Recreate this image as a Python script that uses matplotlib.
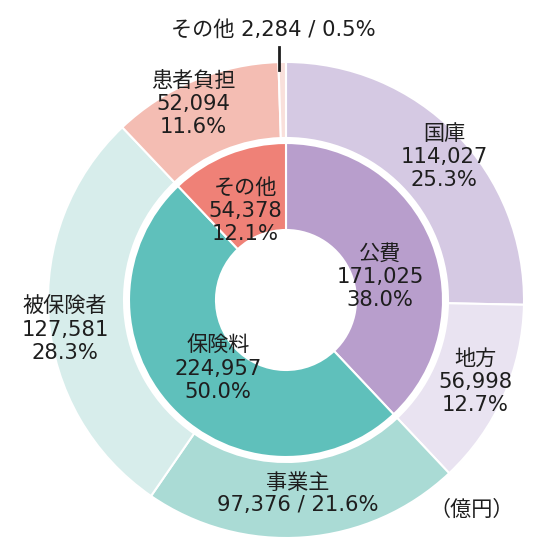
import matplotlib
matplotlib.use("Agg")
import matplotlib.pyplot as plt

plt.rcParams['font.family'] = ['DejaVu Sans', 'Noto Sans CJK JP']

# ---- data ----
inner_names = ["公費", "保険料", "その他"]
inner_values = [171025, 224957, 54378]
inner_pcts = ["38.0%", "50.0%", "12.1%"]
inner_colors = ["#b89ecc", "#5fc0bb", "#ef8177"]

outer_names = ["国庫", "地方", "事業主", "被保険者", "患者負担", "その他"]
outer_values = [114027, 56998, 97376, 127581, 52094, 2284]
outer_pcts = ["25.3%", "12.7%", "21.6%", "28.3%", "11.6%", "0.5%"]
outer_colors = ["#d5c9e3", "#e9e3f1", "#aadbd5", "#d7edeb", "#f4bdb3", "#f9e0db"]

unit_label = "（億円）"

# ---- layout (pixel coordinates, y measured from top) ----
W, H = 550, 555
cx, cy = 286, 300
R_out, w_out = 238, 76
R_in, w_in = 157, 87

fig = plt.figure(figsize=(W / 100, H / 100), dpi=100)
ax = fig.add_axes([0, 0, 1, 1])

ax.pie(outer_values, radius=R_out, center=(cx, H - cy), startangle=90,
       counterclock=False, colors=outer_colors,
       wedgeprops=dict(width=w_out, edgecolor='white', linewidth=1.5))
ax.pie(inner_values, radius=R_in, center=(cx, H - cy), startangle=90,
       counterclock=False, colors=inner_colors,
       wedgeprops=dict(width=w_in, edgecolor='white', linewidth=1.5))
ax.set_xlim(0, W)
ax.set_ylim(0, H)
ax.set_aspect('equal')
ax.axis('off')

fs = 15.2
tc = "#1e1e1e"

def put(x, y, s, ha='center'):
    ax.text(x, H - y, s, ha=ha, va='center', fontsize=fs, color=tc,
            linespacing=1.18)

# inner labels
inner_pos = [(380, 277), (218, 369), (245, 211)]
for (x, y), n, v, p in zip(inner_pos, inner_names, inner_values, inner_pcts):
    put(x, y, f"{n}\n{v:,}\n{p}")

# outer labels
outer_pos = [(444, 157), (475, 382), (298, 494), (65, 330), (193, 104), (273, 30)]
for i, ((x, y), n, v, p) in enumerate(zip(outer_pos, outer_names, outer_values, outer_pcts)):
    if n == "事業主":
        s = f"{n}\n{v:,} / {p}"
    elif i == len(outer_names) - 1:
        s = f"{n} {v:,} / {p}"
    else:
        s = f"{n}\n{v:,}\n{p}"
    put(x, y, s)

# leader line for small slice
ax.plot([279, 279], [H - 47, H - 70], color=tc, lw=2)

put(472, 510, unit_label)

fig.savefig("out.png", dpi=100)
